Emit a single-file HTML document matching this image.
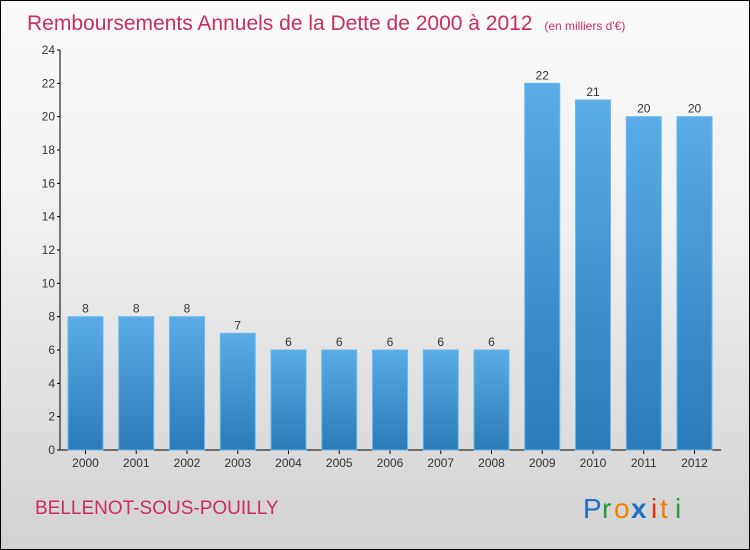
<!DOCTYPE html>
<html><head><meta charset="utf-8"><style>
body{margin:0}
#wrap{position:relative;width:748px;height:548px;border:1px solid #000;background:linear-gradient(#fbfbfb,#f0f0f0 40%,#d2d2d2);font-family:"Liberation Sans",sans-serif;overflow:hidden}
</style></head><body>
<div id="wrap">
<svg width="748" height="548">
<defs><linearGradient id="bg" x1="0" y1="0" x2="0" y2="1"><stop offset="0" stop-color="#5aace6"/><stop offset="1" stop-color="#2a7bb8"/></linearGradient></defs>
<text x="26" y="29" font-size="21" fill="#cc2b62">Remboursements Annuels de la Dette de 2000 à 2012 <tspan font-size="12" dx="6">(en milliers d'€)</tspan></text>
<g id="axis"></g><g id="bars"></g>
<text x="34" y="513" font-size="19" fill="#cc2b62">BELLENOT-SOUS-POUILLY</text>
<g font-size="28" font-family="'Liberation Sans',sans-serif">
<text x="582" y="517" fill="#1e6fc4">P</text><text x="601" y="517" fill="#2a9a3a">r</text><text x="613" y="517" fill="#f08000">o</text><text x="630" y="517" fill="#1e6fc4" font-weight="bold">x</text><text x="650" y="517" fill="#e03010">i</text><text x="659" y="517" fill="#f08000">t</text><text x="674" y="517" fill="#2a9a3a">i</text>
</g>
</svg>
</div>
<script>
const years=["2000","2001","2002","2003","2004","2005","2006","2007","2008","2009","2010","2011","2012"];
const values=[8,8,8,7,6,6,6,6,6,22,21,20,20];
const ticks=[0,2,4,6,8,10,12,14,16,18,20,22,24];
const NS="http://www.w3.org/2000/svg";
const y=v=>449-v*(400/24);
const x=i=>84.5+i*50.75;
const ax=document.getElementById('axis'),bs=document.getElementById('bars');
function mk(t,a,p){const e=document.createElementNS(NS,t);for(const k in a)e.setAttribute(k,a[k]);p.appendChild(e);return e;}
const yl=mk('line',{x1:59,y1:y(24),x2:59,y2:y(0),stroke:'#000'},ax);


const xl=mk('line',{x1:59,y1:y(0),x2:720,y2:y(0),stroke:'#000'},ax);


ticks.forEach(t=>{
mk('line',{x1:56,x2:59,y1:y(t),y2:y(t),stroke:'#000'},ax);
const tx=mk('text',{x:54,y:y(t)+4,'text-anchor':'end','font-size':12,fill:'#333'},ax);
tx.textContent=t;


});
years.forEach((yr,i)=>{
const r=mk('rect',{x:x(i)-17.5,y:y(values[i]),width:35,height:y(0)-y(values[i]),fill:'url(#bg)',stroke:'#6ab8ee','stroke-width':1},bs);


const v=mk('text',{x:x(i),y:y(values[i])-4,'text-anchor':'middle','font-size':12,fill:'#333'},bs);
v.textContent=values[i];


mk('line',{x1:x(i),x2:x(i),y1:y(0),y2:y(0)+4,stroke:'#000'},ax);
const l=mk('text',{x:x(i),y:466,'text-anchor':'middle','font-size':12,fill:'#333'},ax);
l.textContent=yr;


});
</script>
</body></html>
